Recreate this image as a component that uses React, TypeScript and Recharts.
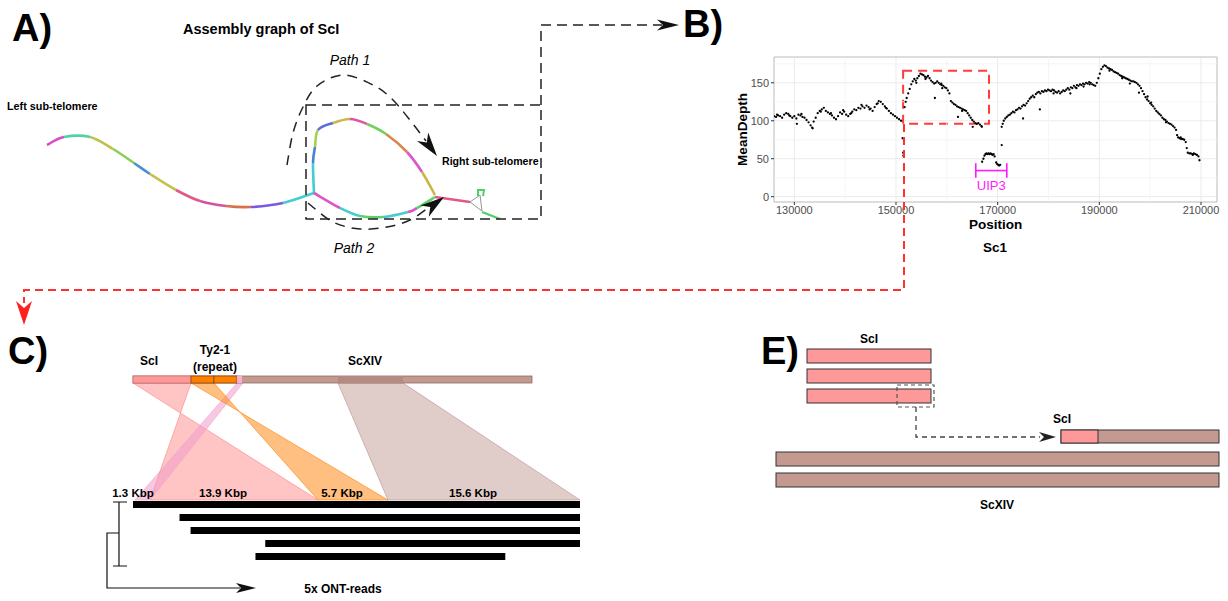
import React from "react";
import {
  ScatterChart,
  Scatter,
  XAxis,
  YAxis,
  CartesianGrid,
  ReferenceArea,
  ReferenceLine,
  Label,
  BarChart,
  Bar,
} from "recharts";

const FONT = "'Liberation Sans', Arial, sans-serif";

// panel B: mean read depth along Sc1, [position, depth]
const depthLeft: [number, number][] = [
  [126000, 106], [126400, 105], [126800, 107], [127200, 106], [127600, 104], [128000, 108],
  [128400, 110], [128800, 109], [129200, 106], [129600, 104], [130000, 106], [130400, 103],
  [130800, 108], [131200, 107], [131600, 105], [132000, 104], [132400, 101], [132800, 98],
  [133200, 94], [133500, 91], [133800, 99], [134200, 104], [134600, 110], [135000, 113],
  [135400, 115], [135800, 117], [136200, 113], [136600, 111], [137000, 109], [137400, 107],
  [137800, 104], [138200, 102], [138600, 106], [139000, 111], [139400, 109], [139800, 112],
  [140200, 108], [140600, 106], [141000, 109], [141400, 112], [141800, 115], [142200, 114],
  [142600, 117], [143000, 116], [143400, 119], [143800, 117], [144200, 120], [144600, 118],
  [145000, 116], [145400, 113], [145800, 118], [146200, 122], [146600, 126], [147000, 125],
  [147400, 122], [147800, 119], [148200, 116], [148600, 113], [149000, 110], [149400, 108],
  [149800, 106], [150200, 104], [150600, 102], [151000, 100],
];

const depthPeak: [number, number][] = [
  [151700, 118], [151900, 125], [152100, 130], [152400, 136], [152700, 142], [153000, 148],
  [153300, 152], [153600, 155], [153900, 153], [154200, 156], [154500, 159], [154800, 162],
  [155100, 161], [155400, 160], [155700, 158], [156000, 157], [156300, 159], [156600, 156],
  [156900, 153], [157200, 151], [157500, 149], [157800, 150], [158100, 152], [158400, 150],
  [158700, 148], [159000, 147], [159300, 146], [159600, 144], [159900, 143], [160200, 140],
  [160500, 136], [160800, 126], [161100, 124], [161400, 122], [161700, 121], [162000, 119],
  [162300, 118], [162600, 117], [162900, 116], [163200, 115], [163500, 114], [163800, 113],
  [164100, 110], [164400, 107], [164700, 104], [165000, 101], [165300, 99], [165600, 97],
  [165900, 96], [166200, 97], [166500, 95], [166800, 93],
];

const depthUip3: [number, number][] = [
  [166950, 46], [167200, 50], [167400, 54], [167600, 56], [167800, 57], [168000, 56],
  [168200, 57], [168400, 56], [168600, 57], [168800, 56], [169000, 55], [169200, 56],
  [169400, 53], [169700, 45], [169900, 43], [170100, 42], [170300, 41], [170500, 42],
];

const depthRight: [number, number][] = [
  [170800, 92], [171000, 96], [171200, 100], [171500, 103], [171800, 105], [172100, 107],
  [172400, 108], [172700, 110], [173000, 112], [173300, 111], [173600, 114], [173900, 115],
  [174200, 117], [174500, 116], [174800, 119], [175100, 121], [175400, 120], [175700, 123],
  [176000, 126], [176300, 129], [176600, 131], [176900, 133], [177200, 131], [177500, 135],
  [177800, 137], [178100, 138], [178400, 136], [178700, 139], [179000, 138], [179300, 140],
  [179600, 139], [179900, 141], [180200, 140], [180500, 139], [180800, 141], [181100, 140],
  [181400, 138], [181700, 137], [182000, 139], [182300, 136], [182600, 138], [182900, 140],
  [183200, 139], [183500, 141], [183800, 143], [184100, 141], [184400, 144], [184700, 143],
  [185000, 146], [185300, 144], [185600, 147], [185900, 146], [186200, 148], [186500, 147],
  [186800, 149], [187100, 148], [187400, 150], [187700, 149], [188000, 151], [188300, 150],
  [188600, 148], [188900, 147], [189200, 146], [189500, 150], [189800, 156], [190100, 162],
  [190400, 168], [190700, 171], [191000, 173], [191300, 172], [191600, 170], [191900, 169],
  [192200, 168], [192500, 167], [192800, 165], [193100, 164], [193400, 163], [193700, 162],
  [194000, 160], [194300, 159], [194600, 158], [194900, 157], [195200, 156], [195500, 155],
  [195800, 154], [196100, 153], [196400, 152], [196700, 152], [197000, 151], [197300, 150],
  [197600, 148], [197900, 146], [198200, 143], [198500, 139], [198800, 135], [199100, 131],
  [199400, 128], [199700, 126], [200000, 123], [200300, 121], [200600, 119], [200900, 116],
  [201200, 113], [201500, 111], [201800, 109], [202100, 107], [202400, 104], [202700, 102],
  [203000, 101], [203300, 99], [203600, 97], [203900, 96], [204200, 95], [204500, 93],
  [204800, 91], [205100, 88], [205300, 81], [205500, 78], [205800, 77], [206100, 76],
  [206400, 76], [206700, 75], [207000, 72], [207200, 64], [207400, 58], [207700, 57],
  [208000, 57], [208300, 56], [208600, 57], [208900, 56], [209200, 55], [209500, 53],
  [209700, 48],
];

// stray dots off the main trace
const depthStray: [number, number][] = [
  [126600, 108], [129000, 107], [130500, 96], [131400, 109], [133600, 90], [135200, 112],
  [137200, 110], [139600, 114], [141200, 110], [143200, 121], [144800, 115], [146400, 123],
  [148000, 117], [151300, 77], [151400, 58], [151450, 54], [154000, 150], [157650, 130],
  [159100, 143], [162200, 105], [165100, 92], [166900, 92], [170800, 68], [175000, 103],
  [178300, 115], [181000, 136], [184300, 136], [186900, 145], [192000, 166], [196000, 149],
  [197800, 137], [199500, 132], [203100, 98], [155800, 155], [158900, 149], [163000, 113],
  [185500, 143], [188100, 148], [194500, 156], [200200, 124], [206000, 78], [208400, 55],
];

const xTicks = [130000, 150000, 170000, 190000, 210000];
const yTicks = [0, 50, 100, 150];
const xMinor = [140000, 160000, 180000, 200000];
const yMinor = [25, 75, 125, 175];

// panel C: ONT reads, kbp from the left end of the longest read
const readStart = [0, 3.8, 4.7, 10.8, 10.0];
const readEnd = [36.5, 36.5, 36.5, 36.5, 30.4];

const depthPoints = [...depthLeft, ...depthPeak, ...depthUip3, ...depthRight, ...depthStray].map(
  ([pos, depth]) => ({ pos, depth })
);
const reads = readStart.map((s, i) => ({ id: `r${i}`, span: [s, readEnd[i]] }));

const Dot = (p: any) => <circle cx={p.cx} cy={p.cy} r={1.15} fill="#000" />;

function smoothPath(pts: number[][]) {
  let d = `M${pts[0][0]},${pts[0][1]}`;
  for (let i = 0; i < pts.length - 1; i++) {
    const p0 = pts[i - 1] || pts[i];
    const p1 = pts[i];
    const p2 = pts[i + 1];
    const p3 = pts[i + 2] || pts[i + 1];
    const c1 = [p1[0] + (p2[0] - p0[0]) / 6, p1[1] + (p2[1] - p0[1]) / 6];
    const c2 = [p2[0] - (p3[0] - p1[0]) / 6, p2[1] - (p3[1] - p1[1]) / 6];
    d += ` C${c1[0]},${c1[1]} ${c2[0]},${c2[1]} ${p2[0]},${p2[1]}`;
  }
  return d;
}

function ColoredCurve({ pts, colors }: { pts: number[][]; colors: string[] }) {
  const segs = [];
  for (let i = 0; i < pts.length - 1; i++) {
    const p0 = pts[i - 1] || pts[i];
    const p1 = pts[i];
    const p2 = pts[i + 1];
    const p3 = pts[i + 2] || pts[i + 1];
    const c1 = [p1[0] + (p2[0] - p0[0]) / 6, p1[1] + (p2[1] - p0[1]) / 6];
    const c2 = [p2[0] - (p3[0] - p1[0]) / 6, p2[1] - (p3[1] - p1[1]) / 6];
    segs.push(
      <path
        key={i}
        d={`M${p1[0]},${p1[1]} C${c1[0]},${c1[1]} ${c2[0]},${c2[1]} ${p2[0]},${p2[1]}`}
        stroke={colors[i]}
        strokeWidth={2.6}
        fill="none"
      />
    );
  }
  return <g>{segs}</g>;
}

function Arrowhead({ x, y, dx, dy, len = 18, w = 6, notch = 5, fill = "#111" }: any) {
  const m = Math.hypot(dx, dy);
  const ux = dx / m;
  const uy = dy / m;
  const px = -uy;
  const py = ux;
  const bx = x - ux * len;
  const by = y - uy * len;
  const nx = x - ux * (len - notch);
  const ny = y - uy * (len - notch);
  return (
    <polygon
      points={`${x},${y} ${bx + px * w},${by + py * w} ${nx},${ny} ${bx - px * w},${by - py * w}`}
      fill={fill}
    />
  );
}

const leftCurve = [
  [47, 145], [64, 137], [90, 137], [113, 149], [134, 163], [150, 174],
  [176, 190], [200, 201], [226, 206], [251, 207], [283, 203], [314, 193],
];
const leftColors = [
  "#d64fc4", "#4fd3a3", "#bcc24c", "#8bcf52", "#4c8fd8", "#c7c24e",
  "#e05a86", "#d452a4", "#d8704c", "#7a5be0", "#45cbd0",
];
const loopTop = [
  [314, 193], [313, 163], [315, 147], [318, 130], [333, 123], [350, 119],
  [367, 124], [386, 134], [407, 152], [422, 172], [435, 195],
];
const loopTopColors = [
  "#45cbd0", "#4c7fd8", "#a9cf4e", "#5b6fe0", "#cdb64a", "#de55a0",
  "#6fd15a", "#d9854e", "#d957c8", "#c9b64a",
];
const loopBottom = [[314, 193], [340, 208], [360, 216], [383, 217], [408, 212], [417, 208], [435, 197]];
const loopBottomColors = ["#d957c8", "#45cbd0", "#5fcf6a", "#45cbd0", "#d957c8", "#5fcf6a"];

const path1 = [[287, 165], [293, 133], [303, 107], [317, 86], [343, 75], [373, 85], [393, 100], [413, 124], [426, 141]];
const path2 = [[308, 203], [333, 222], [360, 229], [387, 227], [410, 220], [428, 208]];

export default function App() {
  const bold = { fontFamily: FONT, fontWeight: 700 } as const;
  return (
    <div
      style={{
        position: "absolute",
        left: 0,
        top: 0,
        width: 1228,
        height: 601,
        background: "#fff",
        overflow: "hidden",
      }}
    >
      <div style={{ position: "absolute", left: 730, top: 45 }}>
        <ScatterChart width={498} height={215} margin={{ top: 12, right: 11, bottom: 28, left: 0 }}>
          <CartesianGrid stroke="#ebebeb" strokeWidth={1} />
          {xMinor.map((v) => (
            <ReferenceLine key={`xm${v}`} x={v} stroke="#f3f3f3" strokeWidth={0.8} />
          ))}
          {yMinor.map((v) => (
            <ReferenceLine key={`ym${v}`} y={v} stroke="#f3f3f3" strokeWidth={0.8} />
          ))}
          <XAxis
            dataKey="pos"
            type="number"
            domain={[126000, 213150]}
            allowDataOverflow
            ticks={xTicks}
            interval={0}
            axisLine={false}
            stroke="#4d4d4d"
            tickLine={{ stroke: "#333" }}
            tickSize={3}
            tickMargin={1}
            height={30}
            tick={{ fontSize: 11, fill: "#4d4d4d", fontFamily: FONT }}
          >
            <Label value="Position" position="insideBottom" offset={3} fontSize={13.5} fontWeight={700} fill="#000" fontFamily={FONT} />
          </XAxis>
          <YAxis
            dataKey="depth"
            type="number"
            domain={[-7, 184]}
            allowDataOverflow
            ticks={yTicks}
            interval={0}
            axisLine={false}
            stroke="#4d4d4d"
            tickLine={{ stroke: "#333" }}
            tickSize={3}
            tickMargin={2}
            width={44}
            tick={{ fontSize: 11, fill: "#4d4d4d", fontFamily: FONT }}
          >
            <Label
              value="MeanDepth"
              angle={-90}
              position="insideLeft"
              offset={12}
              fontSize={13.5}
              fontWeight={700}
              fill="#000"
              fontFamily={FONT}
              style={{ textAnchor: "middle" }}
            />
          </YAxis>
          <ReferenceArea x1={126000} x2={213150} y1={-7} y2={184} fill="none" stroke="#c4c4c4" strokeWidth={1} />
          <Scatter data={depthPoints} shape={Dot} isAnimationActive={false} />
          <ReferenceArea
            x1={151400}
            x2={168300}
            y1={96}
            y2={166}
            fill="none"
            stroke="#ff3b3b"
            strokeWidth={2}
            strokeDasharray="9 6"
          />
          <ReferenceLine segment={[{ x: 165700, y: 34.4 }, { x: 171800, y: 34.4 }]} stroke="#ff1aff" strokeWidth={1.6}>
            <Label value="UIP3" position="bottom" offset={10} fill="#ff1aff" fontSize={13} fontFamily={FONT} />
          </ReferenceLine>
          <ReferenceLine segment={[{ x: 165700, y: 25 }, { x: 165700, y: 44 }]} stroke="#ff1aff" strokeWidth={1.6} />
          <ReferenceLine segment={[{ x: 171800, y: 25 }, { x: 171800, y: 44 }]} stroke="#ff1aff" strokeWidth={1.6} />
        </ScatterChart>
      </div>

      <div style={{ position: "absolute", left: 133, top: 498 }}>
        <BarChart
          width={447}
          height={65}
          data={reads}
          layout="vertical"
          margin={{ top: 0, right: 0, bottom: 0, left: 0 }}
          barCategoryGap={0}
        >
          <XAxis type="number" domain={[0, 36.5]} hide />
          <YAxis type="category" dataKey="id" hide />
          <Bar dataKey="span" fill="#000" barSize={7} isAnimationActive={false} />
        </BarChart>
      </div>

      <svg
        width={1228}
        height={601}
        style={{ position: "absolute", left: 0, top: 0, pointerEvents: "none" }}
      >
        {/* panel letters */}
        <text x={12} y={41} fontSize={38} {...bold}>A)</text>
        <text x={683} y={37} fontSize={38} {...bold}>B)</text>
        <text x={8} y={364} fontSize={38} {...bold}>C)</text>
        <text x={761} y={364} fontSize={38} {...bold}>E)</text>

        {/* panel A */}
        <text x={183} y={34} fontSize={14.5} {...bold}>Assembly graph of ScI</text>
        <text x={350} y={65} fontSize={14} fontStyle="italic" textAnchor="middle" fontFamily={FONT}>Path 1</text>
        <text x={354} y={253} fontSize={14} fontStyle="italic" textAnchor="middle" fontFamily={FONT}>Path  2</text>
        <text x={7} y={110} fontSize={10.8} {...bold}>Left sub-telomere</text>
        <text x={442} y={165} fontSize={10.6} {...bold}>Right sub-telomere</text>

        <ColoredCurve pts={leftCurve} colors={leftColors} />
        <ColoredCurve pts={loopTop} colors={loopTopColors} />
        <ColoredCurve pts={loopBottom} colors={loopBottomColors} />
        <path d="M435,197 L470,202" stroke="#e05a86" strokeWidth={2.4} />
        <path d="M470,202 L480,195 L482,211 Z" stroke="#888" strokeWidth={0.9} fill="none" />
        <path d="M478,196 L478,190 L484,190 L483,196" stroke="#4fcf6a" strokeWidth={2} fill="none" />
        <path d="M482,212 L500,219" stroke="#4fcf6a" strokeWidth={2.4} />

        <rect x={306} y={105} width={235} height={114} fill="none" stroke="#222" strokeWidth={1.5} strokeDasharray="10 6" />
        <path d="M541,105 L541,25 L662,25" fill="none" stroke="#222" strokeWidth={1.5} strokeDasharray="10 6" />
        <Arrowhead x={679} y={25} dx={1} dy={0} len={22} w={5.5} notch={6} />
        <path d={smoothPath(path1)} fill="none" stroke="#222" strokeWidth={1.5} strokeDasharray="10 7" />
        <Arrowhead x={437} y={156} dx={18} dy={24} len={24} w={7} notch={7} />
        <path d={smoothPath(path2)} fill="none" stroke="#222" strokeWidth={1.5} strokeDasharray="10 7" />
        <Arrowhead x={444} y={197} dx={30} dy={-22} len={24} w={7} notch={7} />

        {/* link B -> C */}
        <path d="M904,124 L904,290 L24,290 L24,303" fill="none" stroke="#ff3030" strokeWidth={2} strokeDasharray="8 5" />
        <Arrowhead x={24} y={325} dx={0} dy={1} len={24} w={8} notch={7} fill="#ff2020" />
        <text x={995} y={252} fontSize={13.5} textAnchor="middle" {...bold}>Sc1</text>

        {/* panel C */}
        <text x={149} y={365} fontSize={12} textAnchor="middle" {...bold}>ScI</text>
        <text x={215} y={354} fontSize={12} textAnchor="middle" {...bold}>Ty2-1</text>
        <text x={215} y={371} fontSize={12} textAnchor="middle" {...bold}>(repeat)</text>
        <text x={365} y={365} fontSize={12} textAnchor="middle" {...bold}>ScXIV</text>

        <polygon points="133,383 191,383 150,500 318,500" fill="#ff8c8c" fillOpacity={0.5} stroke="#ff8080" strokeOpacity={0.6} />
        <polygon points="237,383 243,383 150,500 135,500" fill="#f09ac8" fillOpacity={0.55} stroke="#f3a0cc" strokeOpacity={0.6} />
        <polygon points="191,383 214,383 318,500 388,500" fill="#ff8a1a" fillOpacity={0.55} stroke="#ff8000" strokeOpacity={0.6} />
        <polygon points="338,383 403,383 580,500 388,500" fill="#c6a49c" fillOpacity={0.55} stroke="#b89088" strokeOpacity={0.6} />

        <rect x={133} y={376} width={399} height={7} fill="#c49a90" stroke="#8c6c64" strokeWidth={0.8} />
        <rect x={338} y={376} width={65} height={7} fill="#b58a80" />
        <rect x={133} y={376} width={58} height={7} fill="#ff9999" stroke="#d07070" strokeWidth={0.8} />
        <rect x={191} y={376} width={23} height={7} fill="#ff8000" stroke="#8a4a00" strokeWidth={0.8} />
        <rect x={214} y={376} width={23} height={7} fill="#ff8000" stroke="#8a4a00" strokeWidth={0.8} />
        <rect x={237} y={376} width={5} height={7} fill="#f4b0d4" />

        <text x={133} y={497} fontSize={11.5} textAnchor="middle" {...bold}>1.3 Kbp</text>
        <text x={223} y={497} fontSize={11.5} textAnchor="middle" {...bold}>13.9 Kbp</text>
        <text x={342} y={497} fontSize={11.5} textAnchor="middle" {...bold}>5.7 Kbp</text>
        <text x={473} y={497} fontSize={11.5} textAnchor="middle" {...bold}>15.6 Kbp</text>

        <path d="M113,502 L127,502 M119,502 L119,566 M113,566 L127,566 M119,533 L107,533 L107,588 L240,588" fill="none" stroke="#111" strokeWidth={1.2} />
        <Arrowhead x={256} y={588} dx={1} dy={0} len={20} w={5} notch={5} />
        <text x={343} y={593} fontSize={12} textAnchor="middle" {...bold}>5x ONT-reads</text>

        {/* panel E */}
        <text x={869} y={343} fontSize={12} textAnchor="middle" {...bold}>ScI</text>
        {[349, 369, 389].map((y) => (
          <rect key={y} x={807} y={y} width={124} height={14} fill="#ff9999" stroke="#333" strokeWidth={1} />
        ))}
        <rect x={897} y={385} width={37} height={22} fill="none" stroke="#555" strokeWidth={1.2} strokeDasharray="4 3" />
        <path d="M916,407 L916,437 L1040,437" fill="none" stroke="#444" strokeWidth={1.3} strokeDasharray="5 4" />
        <Arrowhead x={1056} y={437} dx={1} dy={0} len={17} w={5} notch={5} fill="#222" />
        <text x={1062} y={423} fontSize={12} textAnchor="middle" {...bold}>ScI</text>
        <rect x={1061} y={430} width={158} height={13} fill="#c49a90" stroke="#333" strokeWidth={1} />
        <rect x={1061} y={430} width={37} height={13} fill="#ff9999" stroke="#333" strokeWidth={1} />
        <rect x={776} y={452} width={443} height={14} fill="#c49a90" stroke="#333" strokeWidth={1} />
        <rect x={776} y={473} width={443} height={14} fill="#c49a90" stroke="#333" strokeWidth={1} />
        <text x={997} y={509} fontSize={12} textAnchor="middle" {...bold}>ScXIV</text>
      </svg>
    </div>
  );
}
